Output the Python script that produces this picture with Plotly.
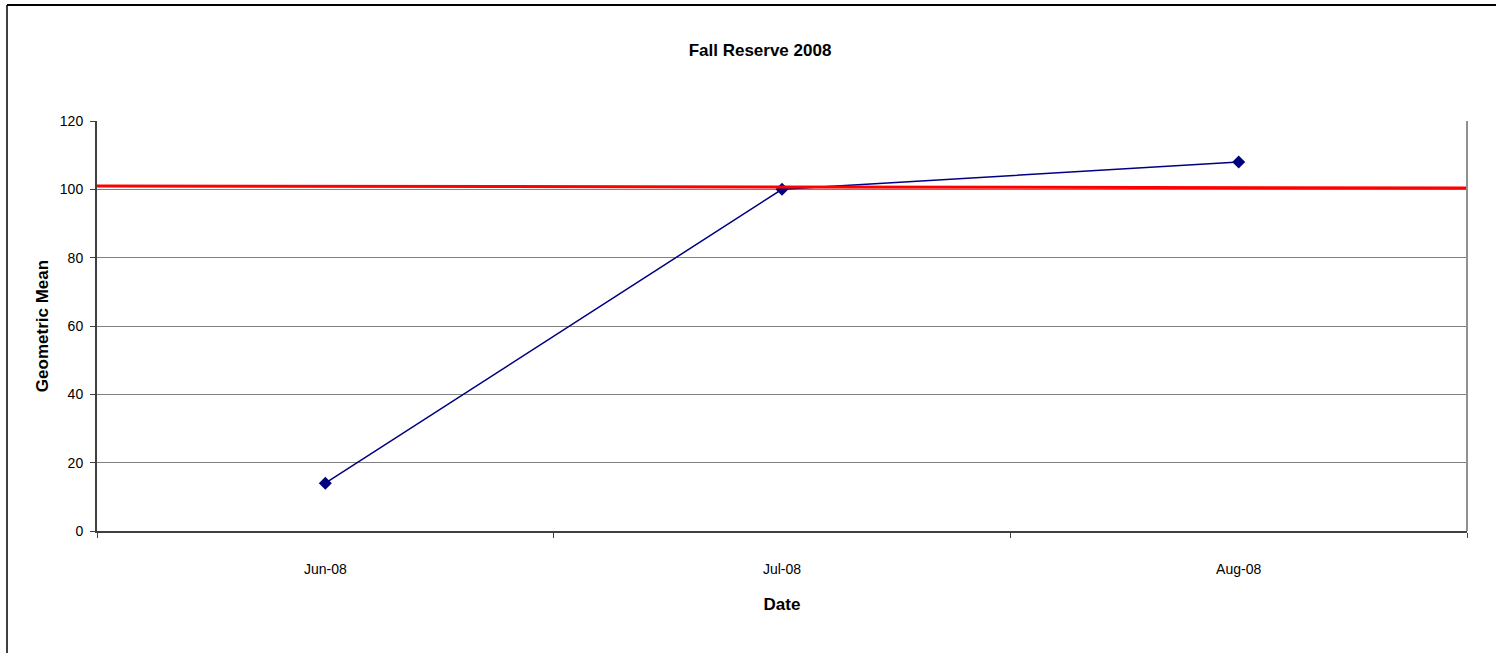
import plotly.graph_objects as go

months = ["Jun-08", "Jul-08", "Aug-08"]
geo_mean = [14, 100, 108]
limit_x = [-0.5, 2.5]
limit_y = [101, 100.4]

font_family = "Liberation Sans Narrow, Arial Narrow, Liberation Sans, Arial"

fig = go.Figure()

fig.add_trace(go.Scatter(x=months, y=geo_mean, mode="lines+markers",
                         line=dict(color="#000080", width=1.5),
                         marker=dict(symbol="diamond", size=10, color="#000080"),
                         showlegend=False))

fig.add_trace(go.Scatter(x=limit_x, y=limit_y, mode="lines", xaxis="x2",
                         line=dict(color="#ff0000", width=3),
                         showlegend=False))

fig.update_layout(
    width=1496, height=653,
    margin=dict(l=97, r=29, t=121, b=122),
    paper_bgcolor="white", plot_bgcolor="white",
    font=dict(family=font_family, size=14, color="black"),
    title=dict(text="<b>Fall Reserve 2008</b>", x=760 / 1496, xanchor="center",
               y=1 - 50 / 653, yanchor="middle", font=dict(size=17)),
    xaxis=dict(type="category", range=[-0.5, 2.5], tickson="boundaries",
               ticks="outside", ticklen=5, tickcolor="#404040",
               showline=True, linecolor="#404040", linewidth=2,
               showgrid=False, mirror=False, ticklabelstandoff=24,
               title=dict(text="<b>Date</b>", standoff=22)),
    xaxis2=dict(overlaying="x", range=[-0.5, 2.5], visible=False),
    yaxis=dict(range=[0, 120], dtick=20, ticks="outside", ticklen=5,
               tickcolor="#404040", showline=True, linecolor="#404040",
               linewidth=2, gridcolor="#808080", gridwidth=1,
               zeroline=False, ticklabelstandoff=4,
               title=dict(text="<b>Geometric Mean</b>", standoff=7)),
    shapes=[
        dict(type="line", xref="paper", yref="paper", x0=1, x1=1, y0=0, y1=1,
             line=dict(color="#909090", width=2)),
        dict(type="line", xref="paper", yref="paper",
             x0=-90 / 1370, x1=1399 / 1370, y0=526 / 410, y1=526 / 410,
             line=dict(color="black", width=2)),
        dict(type="line", xref="paper", yref="paper",
             x0=-90 / 1370, x1=-90 / 1370, y0=526 / 410, y1=-122 / 410,
             line=dict(color="black", width=1.5)),
    ],
)

fig.write_html("out.html", config={"displayModeBar": False},
               post_script="document.body.style.margin='0';")
